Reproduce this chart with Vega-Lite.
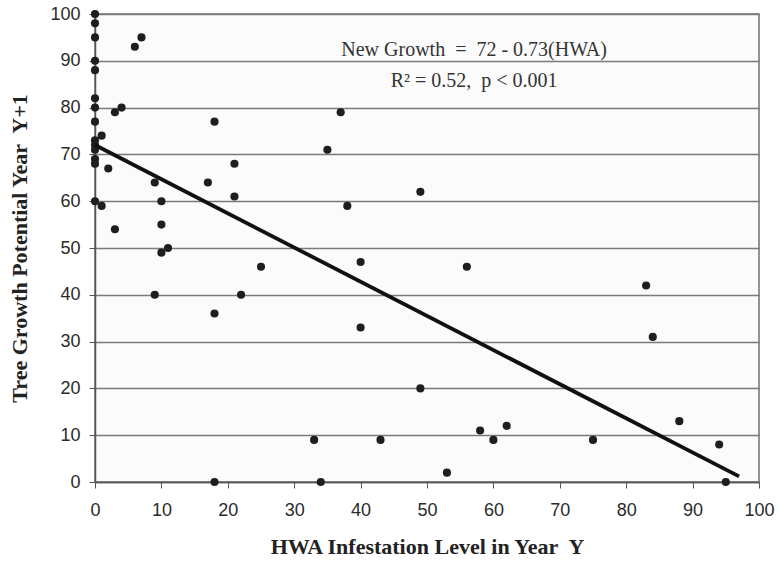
{
  "$schema": "https://vega.github.io/schema/vega-lite/v6.json",
  "width": 664,
  "height": 468,
  "autosize": "none",
  "padding": {"left": 95, "top": 14, "right": 20, "bottom": 80},
  "background": "white",
  "config": {
    "view": {"stroke": "#707070", "strokeWidth": 1.5, "fill": "#fbfbfb"},
    "axis": {
      "labelFont": "Liberation Sans",
      "labelFontSize": 18,
      "labelColor": "#2a2a2a",
      "labelFlush": false,
      "titleFont": "Liberation Serif",
      "titleFontWeight": "bold",
      "titleFontSize": 22,
      "titleColor": "#222",
      "domainColor": "#555",
      "domainWidth": 1.5,
      "tickColor": "#555",
      "tickSize": 6,
      "gridColor": "#7a7a7a",
      "gridWidth": 1.3
    }
  },
  "layer": [
    {
      "data": {
        "values": [
          {"hwa": 0, "growth": 100}, {"hwa": 0, "growth": 98}, {"hwa": 0, "growth": 95},
          {"hwa": 0, "growth": 90}, {"hwa": 0, "growth": 88}, {"hwa": 0, "growth": 82},
          {"hwa": 0, "growth": 80}, {"hwa": 0, "growth": 77}, {"hwa": 0, "growth": 73},
          {"hwa": 0, "growth": 72}, {"hwa": 0, "growth": 71}, {"hwa": 0, "growth": 69},
          {"hwa": 0, "growth": 68}, {"hwa": 0, "growth": 60},
          {"hwa": 1, "growth": 74}, {"hwa": 1, "growth": 59}, {"hwa": 2, "growth": 67},
          {"hwa": 3, "growth": 79}, {"hwa": 4, "growth": 80}, {"hwa": 3, "growth": 54},
          {"hwa": 6, "growth": 93}, {"hwa": 7, "growth": 95},
          {"hwa": 9, "growth": 64}, {"hwa": 9, "growth": 40},
          {"hwa": 10, "growth": 60}, {"hwa": 10, "growth": 55}, {"hwa": 10, "growth": 49},
          {"hwa": 11, "growth": 50},
          {"hwa": 17, "growth": 64}, {"hwa": 18, "growth": 77}, {"hwa": 18, "growth": 36},
          {"hwa": 18, "growth": 0},
          {"hwa": 21, "growth": 68}, {"hwa": 21, "growth": 61}, {"hwa": 22, "growth": 40},
          {"hwa": 25, "growth": 46},
          {"hwa": 33, "growth": 9}, {"hwa": 34, "growth": 0},
          {"hwa": 35, "growth": 71}, {"hwa": 37, "growth": 79}, {"hwa": 38, "growth": 59},
          {"hwa": 40, "growth": 47}, {"hwa": 40, "growth": 33},
          {"hwa": 43, "growth": 9},
          {"hwa": 49, "growth": 62}, {"hwa": 49, "growth": 20},
          {"hwa": 53, "growth": 2}, {"hwa": 56, "growth": 46},
          {"hwa": 58, "growth": 11}, {"hwa": 60, "growth": 9}, {"hwa": 62, "growth": 12},
          {"hwa": 75, "growth": 9},
          {"hwa": 83, "growth": 42}, {"hwa": 84, "growth": 31},
          {"hwa": 88, "growth": 13}, {"hwa": 94, "growth": 8}, {"hwa": 95, "growth": 0}
        ]
      },
      "mark": {"type": "circle", "size": 66, "color": "#1e1e1e", "opacity": 1},
      "encoding": {
        "x": {
          "field": "hwa", "type": "quantitative",
          "scale": {"domain": [0, 100], "nice": false, "zero": true},
          "axis": {
            "title": "HWA Infestation Level in Year\u00a0 Y",
            "values": [0,5,10,15,20,25,30,35,40,45,50,55,60,65,70,75,80,85,90,95,100],
            "labelExpr": "datum.value % 10 === 0 ? datum.label : ''",
            "grid": false,
            "labelPadding": 13,
            "titlePadding": 17
          }
        },
        "y": {
          "field": "growth", "type": "quantitative",
          "scale": {"domain": [0, 100], "nice": false},
          "axis": {
            "title": "Tree Growth Potential Year\u00a0 Y+1",
            "values": [0,5,10,15,20,25,30,35,40,45,50,55,60,65,70,75,80,85,90,95,100],
            "labelExpr": "datum.value % 10 === 0 ? datum.label : ''",
            "gridOpacity": {"condition": {"test": "datum.value % 10 !== 0", "value": 0}, "value": 1},
            "labelPadding": 9,
            "titlePadding": 18
          }
        }
      }
    },
    {
      "data": {"values": [{"hwa": 0, "growth": 72}, {"hwa": 97, "growth": 1.2}]},
      "mark": {"type": "line", "color": "#111", "strokeWidth": 3.8},
      "encoding": {
        "x": {"field": "hwa", "type": "quantitative"},
        "y": {"field": "growth", "type": "quantitative"}
      }
    },
    {
      "data": {"values": [
        {"label": "New Growth\u00a0 =\u00a0 72 - 0.73(HWA)", "lx": 57.1, "ly": 92.3},
        {"label": "R² = 0.52,\u00a0 p < 0.001", "lx": 57.1, "ly": 85.7}
      ]},
      "mark": {"type": "text", "font": "Liberation Serif", "fontSize": 20, "color": "#333", "align": "center", "baseline": "middle"},
      "encoding": {
        "x": {"field": "lx", "type": "quantitative"},
        "y": {"field": "ly", "type": "quantitative"},
        "text": {"field": "label"}
      }
    }
  ]
}
